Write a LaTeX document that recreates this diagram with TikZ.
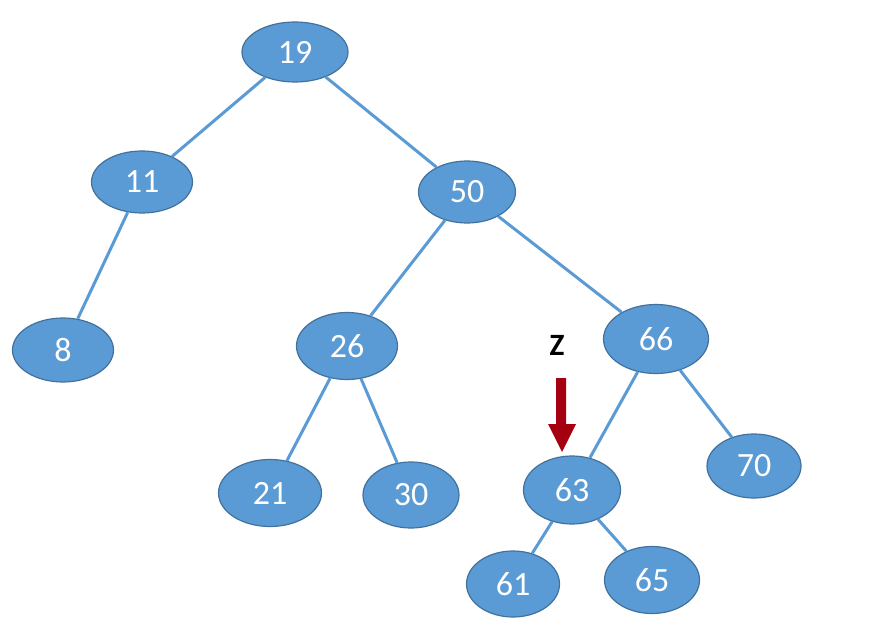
\documentclass[tikz,border=0pt]{standalone}
\usepackage{fontspec}
\setmainfont{Carlito}
\usetikzlibrary{shapes.geometric}
\definecolor{nodefill}{HTML}{5B9BD5}
\definecolor{nodeline}{HTML}{41719C}
\definecolor{edgecol}{HTML}{5B9BD5}
\definecolor{arrowred}{HTML}{A50010}
\begin{document}
\begin{tikzpicture}[x=1pt,y=-1pt,
  tnode/.style={ellipse,draw=nodeline,line width=1.2pt,fill=nodefill,text=white,
    minimum width=101pt,minimum height=62pt,inner sep=0pt,font=\fontsize{34}{34}\selectfont},
  tedge/.style={draw=edgecol,line width=3pt}]
\useasboundingbox (0,0) rectangle (870,639);
\fill[white] (0,0) rectangle (870,639);
\node[tnode,minimum width=106pt,minimum height=60pt] (n19) at (295,52) {19};
\node[tnode] (n11) at (142,182) {11};
\node[tnode,minimum width=97pt] (n50) at (467,192) {50};
\node[tnode,minimum height=64pt] (n8) at (63,350) {8};
\node[tnode,minimum height=67pt] (n26) at (347,346) {26};
\node[tnode,minimum width=105pt,minimum height=69pt] (n66) at (656,339) {66};
\node[tnode,minimum width=103pt,minimum height=67pt] (n21) at (270,493) {21};
\node[tnode,minimum width=96pt,minimum height=66pt] (n30) at (411,495) {30};
\node[tnode,minimum width=97pt,minimum height=68pt] (n63) at (572,490) {63};
\node[tnode,minimum width=94pt,minimum height=64pt] (n70) at (754,466) {70};
\node[tnode,minimum width=93pt,minimum height=66pt] (n61) at (513,584) {61};
\node[tnode,minimum width=95pt,minimum height=67pt] (n65) at (652,580) {65};
\path[tedge] (n19) -- (n11);
\path[tedge] (n19) -- (n50);
\path[tedge] (n11) -- (n8);
\path[tedge] (n50) -- (n26);
\path[tedge] (n50) -- (n66);
\path[tedge] (n26) -- (n21);
\path[tedge] (n26) -- (n30);
\path[tedge] (n66) -- (n63);
\path[tedge] (n66) -- (n70);
\path[tedge] (n63) -- (n61);
\path[tedge] (n63) -- (n65);
\node[font=\fontsize{31}{31}\selectfont\bfseries,text=black,inner sep=0pt] (zlabel) at (557,345) {Z};
\fill[arrowred] (556,378) -- (566,378) -- (566,424) -- (576,424) -- (562,452) -- (548,424) -- (556,424) -- cycle;
\end{tikzpicture}
\end{document}
